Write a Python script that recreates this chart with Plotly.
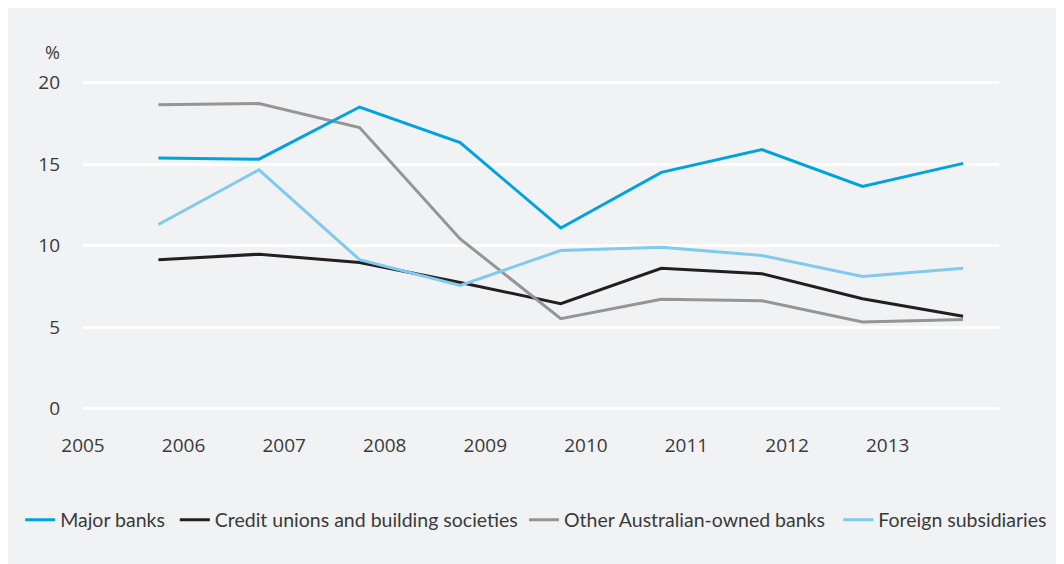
import plotly.graph_objects as go

years = [2005.75, 2006.75, 2007.75, 2008.75, 2009.75, 2010.75, 2011.75, 2012.75, 2013.75]
major_banks = [15.38, 15.31, 18.51, 16.33, 11.09, 14.5, 15.9, 13.64, 15.05]
credit_unions = [9.14, 9.48, 8.97, 7.75, 6.45, 8.62, 8.28, 6.75, 5.67]
other_aus = [18.65, 18.72, 17.25, 10.42, 5.53, 6.71, 6.63, 5.32, 5.47]
foreign_subs = [11.3, 14.66, 9.14, 7.57, 9.71, 9.91, 9.4, 8.12, 8.62]

tick_years = [2005, 2006, 2007, 2008, 2009, 2010, 2011, 2012, 2013]
tick_labels = [str(y) for y in tick_years]
y_ticks = [0, 5, 10, 15, 20]

BG = "#f1f2f4"
TXT = "#3a3a3a"

OFF = 8  # page body margin
W, H = 1064 - OFF, 564 - OFF
L, T = 83 - OFF, 70 - OFF
R = W - (1001 - OFF)
B = H - (420 - OFF)
PW, PH = W - L - R, H - T - B

def px_x(p):
    return (p - OFF - L) / PW

def px_y(p):
    return (H - B - (p - OFF)) / PH

fig = go.Figure()
# (name, values, colour, legend id, legend text start in screen px)
series = [
    ("Credit unions and building societies", credit_unions, "#231f20", "legend2", 216),
    ("Other Australian-owned banks", other_aus, "#959595", "legend3", 566),
    ("Foreign subsidiaries", foreign_subs, "#80c9ef", "legend4", 881),
    ("Major banks", major_banks, "#00a3e0", "legend", 61),
]
legend_layout = {}
for name, vals, col, lg, tx in series:
    fig.add_trace(go.Scatter(x=years, y=vals, name=name, mode="lines",
                             line=dict(color=col, width=3), legend=lg))
    legend_layout[lg] = dict(orientation="h", x=px_x(tx - 41), y=px_y(520),
                             xanchor="left", yanchor="middle",
                             font=dict(family="Lato", size=19.5, color=TXT),
                             bgcolor="rgba(0,0,0,0)", itemwidth=30)

fig.add_annotation(text="%", xref="paper", yref="paper", x=px_x(52), y=px_y(52),
                   xanchor="center", yanchor="middle", showarrow=False,
                   font=dict(family="Open Sans", size=18, color=TXT))

fig.update_layout(
    width=W, height=H,
    margin=dict(l=L, r=R, t=T, b=B, pad=0),
    paper_bgcolor=BG,
    plot_bgcolor=BG,
    showlegend=True,
    xaxis=dict(range=[2005, 2014.107], tickvals=tick_years, ticktext=tick_labels,
               showgrid=False, zeroline=False, showline=False, ticks="",
               ticklabelstandoff=12,
               tickfont=dict(family="Open Sans", size=19, color=TXT)),
    yaxis=dict(range=[-0.69, 20.78], tickvals=y_ticks, showgrid=True, gridcolor="white",
               gridwidth=3, zeroline=False, showline=False, ticks="",
               ticklabelstandoff=22,
               tickfont=dict(family="Open Sans", size=19, color=TXT)),
    **legend_layout,
)

fig.write_html("out.html")
